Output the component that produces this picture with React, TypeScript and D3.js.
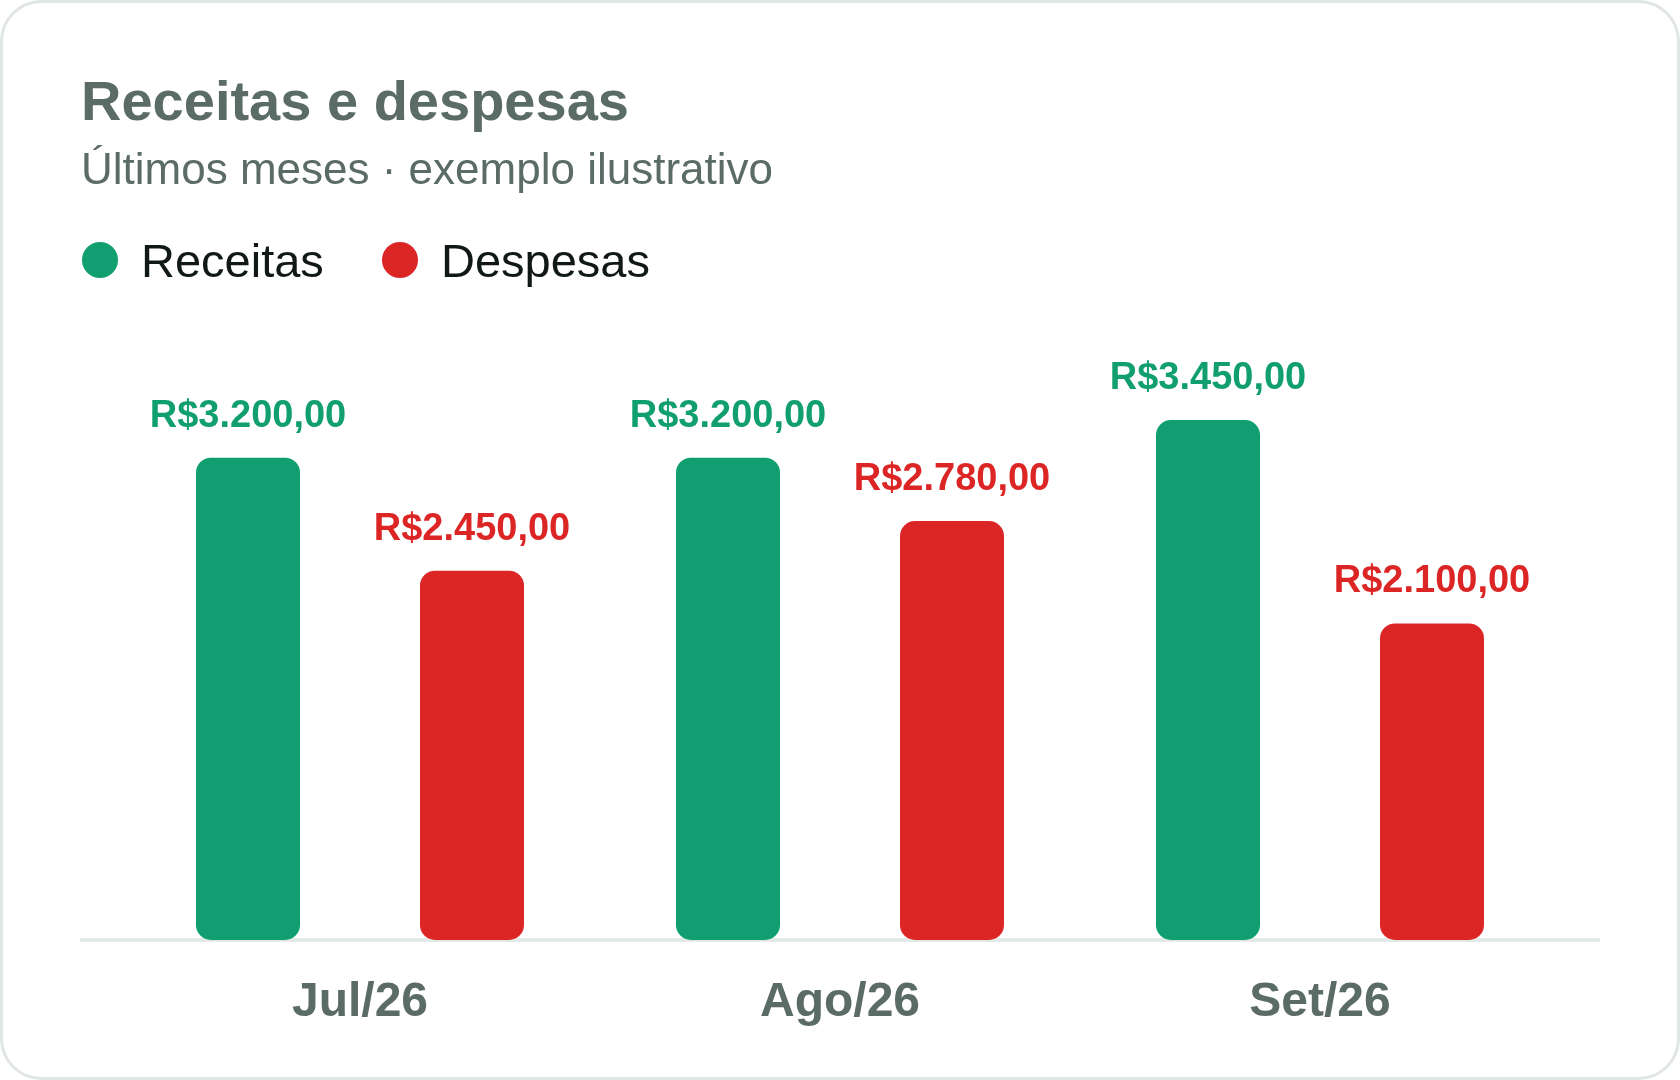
import React, { useEffect, useRef } from 'react';
import * as d3 from 'd3';

// chart data
const months: string[] = ['Jul/26', 'Ago/26', 'Set/26'];
const seriesNames: string[] = ['Receitas', 'Despesas'];
const receitas: number[] = [3200, 3200, 3450];
const despesas: number[] = [2450, 2780, 2100];
const seriesColors: string[] = ['#119e70', '#dc2626'];

const title = 'Receitas e despesas';
const subtitle = 'Últimos meses · exemplo ilustrativo';

const FONT = '"Liberation Sans", Arial, Helvetica, sans-serif';

const brl = d3.formatLocale({
  decimal: ',',
  thousands: '.',
  grouping: [3],
  currency: ['R$', ''],
});
const fmt = brl.format('$,.2f');

const App: React.FC = () => {
  const svgRef = useRef<SVGSVGElement | null>(null);

  useEffect(() => {
    if (!svgRef.current) return;

    const width = 1680;
    const height = 1080;
    const svg = d3.select(svgRef.current);
    svg.selectAll('*').remove();
    svg.attr('width', width).attr('height', height);

    // card
    svg
      .append('rect')
      .attr('x', 1.5)
      .attr('y', 1.5)
      .attr('width', width - 3)
      .attr('height', height - 3)
      .attr('rx', 40)
      .attr('fill', '#ffffff')
      .attr('stroke', '#dfe6e3')
      .attr('stroke-width', 3);

    // header
    svg
      .append('text')
      .attr('x', 81)
      .attr('y', 120)
      .attr('font-family', FONT)
      .attr('font-size', 56)
      .attr('font-weight', 700)
      .attr('fill', '#5b6b66')
      .text(title);

    svg
      .append('text')
      .attr('x', 81)
      .attr('y', 184)
      .attr('font-family', FONT)
      .attr('font-size', 44)
      .attr('fill', '#5b6b66')
      .text(subtitle);

    // legend
    const legendX = [100, 400];
    const legend = svg
      .selectAll('.legend')
      .data(seriesNames)
      .enter()
      .append('g')
      .attr('class', 'legend')
      .attr('transform', (_d, i) => `translate(${legendX[i]},260)`);

    legend
      .append('circle')
      .attr('r', 18)
      .attr('fill', (_d, i) => seriesColors[i]);

    legend
      .append('text')
      .attr('x', 41)
      .attr('y', 17)
      .attr('font-family', FONT)
      .attr('font-size', 47)
      .attr('fill', '#111917')
      .text((d) => d);

    // scales
    const x0 = d3
      .scaleBand<string>()
      .domain(months)
      .range([80, 1600])
      .paddingInner(0)
      .paddingOuter(40 / 480);

    const x1 = d3
      .scaleBand<string>()
      .domain(seriesNames)
      .range([0, x0.bandwidth()])
      .paddingInner(15 / 28)
      .paddingOuter(19 / 56);

    const y = d3
      .scaleLinear()
      .domain([0, d3.max(receitas.concat(despesas))! * 1.15])
      .range([940, 342]);

    const rows = months.map((m, i) => ({
      month: m,
      values: [
        { key: seriesNames[0], value: receitas[i], color: seriesColors[0] },
        { key: seriesNames[1], value: despesas[i], color: seriesColors[1] },
      ],
    }));

    // baseline
    svg
      .append('line')
      .attr('x1', 80)
      .attr('x2', 1600)
      .attr('y1', y(0))
      .attr('y2', y(0))
      .attr('stroke', '#dfe6e3')
      .attr('stroke-width', 3.5);

    const groups = svg
      .selectAll('.group')
      .data(rows)
      .enter()
      .append('g')
      .attr('class', 'group')
      .attr('transform', (d) => `translate(${x0(d.month)},0)`);

    groups
      .selectAll('rect')
      .data((d) => d.values)
      .enter()
      .append('rect')
      .attr('x', (d) => x1(d.key)!)
      .attr('y', (d) => y(d.value))
      .attr('width', x1.bandwidth())
      .attr('height', (d) => y(0) - y(d.value))
      .attr('rx', 15)
      .attr('fill', (d) => d.color);

    groups
      .selectAll('.value')
      .data((d) => d.values)
      .enter()
      .append('text')
      .attr('class', 'value')
      .attr('x', (d) => x1(d.key)! + x1.bandwidth() / 2)
      .attr('y', (d) => y(d.value) - 31)
      .attr('text-anchor', 'middle')
      .attr('font-family', FONT)
      .attr('font-size', 38)
      .attr('font-weight', 700)
      .attr('fill', (d) => d.color)
      .text((d) => fmt(d.value));

    // month labels
    svg
      .selectAll('.month')
      .data(months)
      .enter()
      .append('text')
      .attr('class', 'month')
      .attr('x', (d) => x0(d)! + x0.bandwidth() / 2)
      .attr('y', 1016)
      .attr('text-anchor', 'middle')
      .attr('font-family', FONT)
      .attr('font-size', 48)
      .attr('font-weight', 700)
      .attr('fill', '#5b6b66')
      .text((d) => d);
  }, []);

  return (
    <svg
      ref={svgRef}
      style={{ position: 'fixed', left: 0, top: 0, display: 'block' }}
    ></svg>
  );
};

export default App;
